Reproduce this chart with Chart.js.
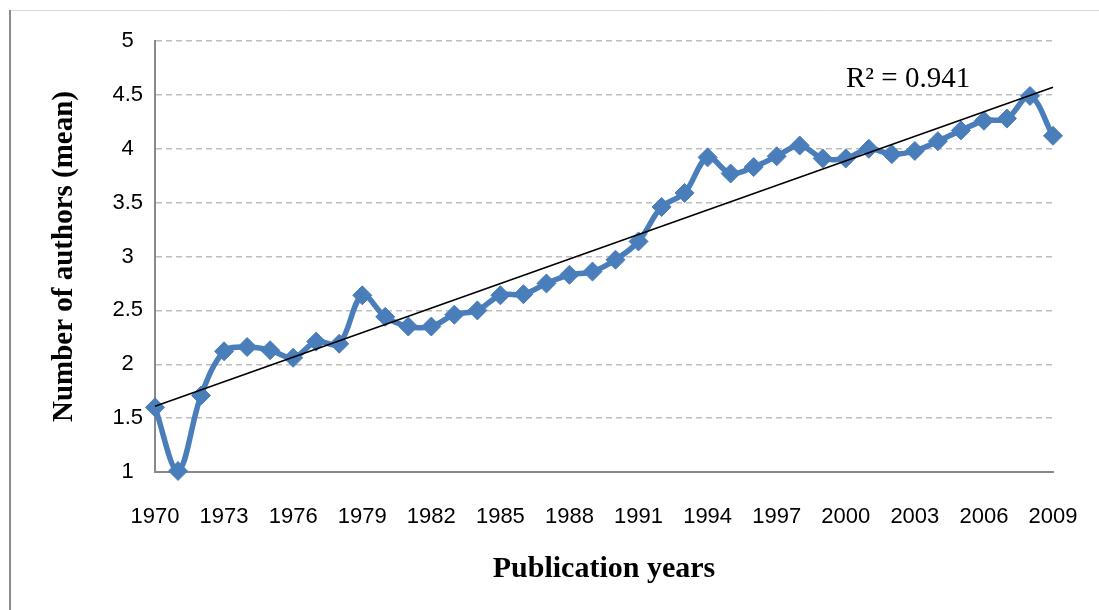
<!DOCTYPE html>
<html>
<head>
<meta charset="utf-8">
<script src="https://cdn.jsdelivr.net/npm/chart.js@4/dist/chart.umd.min.js"></script>
<style>
  html, body { margin: 0; padding: 0; background: #ffffff; }
  #wrap { width: 1099px; height: 610px; position: relative; }
</style>
</head>
<body>
<div id="wrap"><canvas id="c" width="1099" height="610"></canvas></div>
<script>
const years = ['1970','1971','1972','1973','1974','1975','1976','1977','1978','1979',
               '1980','1981','1982','1983','1984','1985','1986','1987','1988','1989',
               '1990','1991','1992','1993','1994','1995','1996','1997','1998','1999',
               '2000','2001','2002','2003','2004','2005','2006','2007','2008','2009'];
const authorsMean = [1.60, 1.01, 1.71, 2.12, 2.16, 2.13, 2.06, 2.21, 2.19, 2.64,
                     2.44, 2.35, 2.35, 2.46, 2.50, 2.64, 2.65, 2.75, 2.83, 2.86,
                     2.97, 3.14, 3.46, 3.59, 3.92, 3.77, 3.83, 3.93, 4.03, 3.91,
                     3.91, 4.00, 3.95, 3.98, 4.07, 4.17, 4.26, 4.28, 4.49, 4.12];
// linear trendline end values
const trendStart = 1.61;
const trendEnd = 4.57;
const rSquaredLabel = 'R\u00B2 = 0.941';
const yTitle = 'Number of authors (mean)';
const xTitle = 'Publication years';

const trendData = years.map((y, i) => i === 0 ? trendStart : (i === years.length - 1 ? trendEnd : null));

const decorPlugin = {
  id: 'decor',
  beforeDraw(chart) {
    const ctx = chart.ctx;
    ctx.save();
    ctx.fillStyle = '#ffffff';
    ctx.fillRect(0, 0, chart.width, chart.height);
    ctx.strokeStyle = '#d9d9d9';
    ctx.lineWidth = 1;
    ctx.beginPath();
    ctx.moveTo(9, 10.5);
    ctx.lineTo(chart.width, 10.5);
    ctx.stroke();
    ctx.strokeStyle = '#8c8c8c';
    ctx.lineWidth = 2;
    ctx.beginPath();
    ctx.moveTo(10, 10);
    ctx.lineTo(10, chart.height);
    ctx.stroke();
    ctx.restore();
  },
  afterDraw(chart) {
    const ctx = chart.ctx;
    ctx.save();
    ctx.fillStyle = '#000000';
    ctx.font = '29px "Liberation Serif", "Times New Roman", serif';
    ctx.textAlign = 'left';
    ctx.textBaseline = 'alphabetic';
    ctx.fillText(rSquaredLabel, 846, 87);
    ctx.restore();
  }
};

new Chart(document.getElementById('c'), {
  type: 'line',
  data: {
    labels: years,
    datasets: [
      {
        label: 'Number of authors (mean)',
        data: authorsMean,
        borderColor: '#4a7ebb',
        backgroundColor: '#4a7ebb',
        borderWidth: 5.5,
        tension: 0.35,
        pointStyle: 'rectRot',
        pointRadius: 9.5,
        pointBorderWidth: 1,
        pointBackgroundColor: '#4a7ebb',
        pointBorderColor: '#4a7ebb',
        clip: false,
        order: 2
      },
      {
        label: 'Linear trend',
        data: trendData,
        borderColor: '#000000',
        borderWidth: 1.6,
        pointRadius: 0,
        tension: 0,
        spanGaps: true,
        clip: false,
        order: 1
      }
    ]
  },
  options: {
    responsive: false,
    animation: false,
    devicePixelRatio: 1,
    layout: { padding: { top: 41, right: 46, left: 0, bottom: 0 } },
    plugins: {
      legend: { display: false },
      tooltip: { enabled: false },
      title: { display: false }
    },
    scales: {
      x: {
        type: 'category',
        offset: false,
        grid: { display: false, drawTicks: false },
        border: { display: true, color: '#898989', width: 2 },
        ticks: {
          autoSkip: false,
          maxRotation: 0,
          minRotation: 0,
          padding: 32,
          color: '#000000',
          font: { family: '"Liberation Sans", Arial, sans-serif', size: 22 },
          callback: function (value, index) {
            return index % 3 === 0 ? this.getLabelForValue(value) : '';
          }
        },
        title: {
          display: true,
          text: xTitle,
          color: '#000000',
          font: { family: '"Liberation Serif", "Times New Roman", serif', size: 30, weight: 'bold', lineHeight: 1 },
          padding: { top: 0, bottom: 26 }
        },
        afterFit(scale) {
          scale.height = 138;
          scale.paddingLeft = 0;
          scale.paddingRight = 0;
        }
      },
      y: {
        min: 1,
        max: 5,
        grid: {
          drawTicks: false,
          color: (c) => (c.tick && c.tick.value === 1) ? 'rgba(0,0,0,0)' : '#bdbdbd',
          lineWidth: 1.5
        },
        border: { display: true, color: '#898989', width: 2, dash: [6, 4], dashOffset: 0 },
        ticks: {
          stepSize: 0.5,
          padding: 12,
          crossAlign: 'center',
          color: '#000000',
          font: { family: '"Liberation Sans", Arial, sans-serif', size: 22 },
          callback: (v) => String(v)
        },
        title: {
          display: true,
          text: yTitle,
          color: '#000000',
          font: { family: '"Liberation Serif", "Times New Roman", serif', size: 29, weight: 'bold', lineHeight: 1 },
          padding: { top: 50, bottom: 0 }
        },
        afterFit(scale) {
          scale.width = 155;
          scale.paddingTop = 0;
          scale.paddingBottom = 0;
        }
      }
    }
  },
  plugins: [decorPlugin]
});
</script>
</body>
</html>
